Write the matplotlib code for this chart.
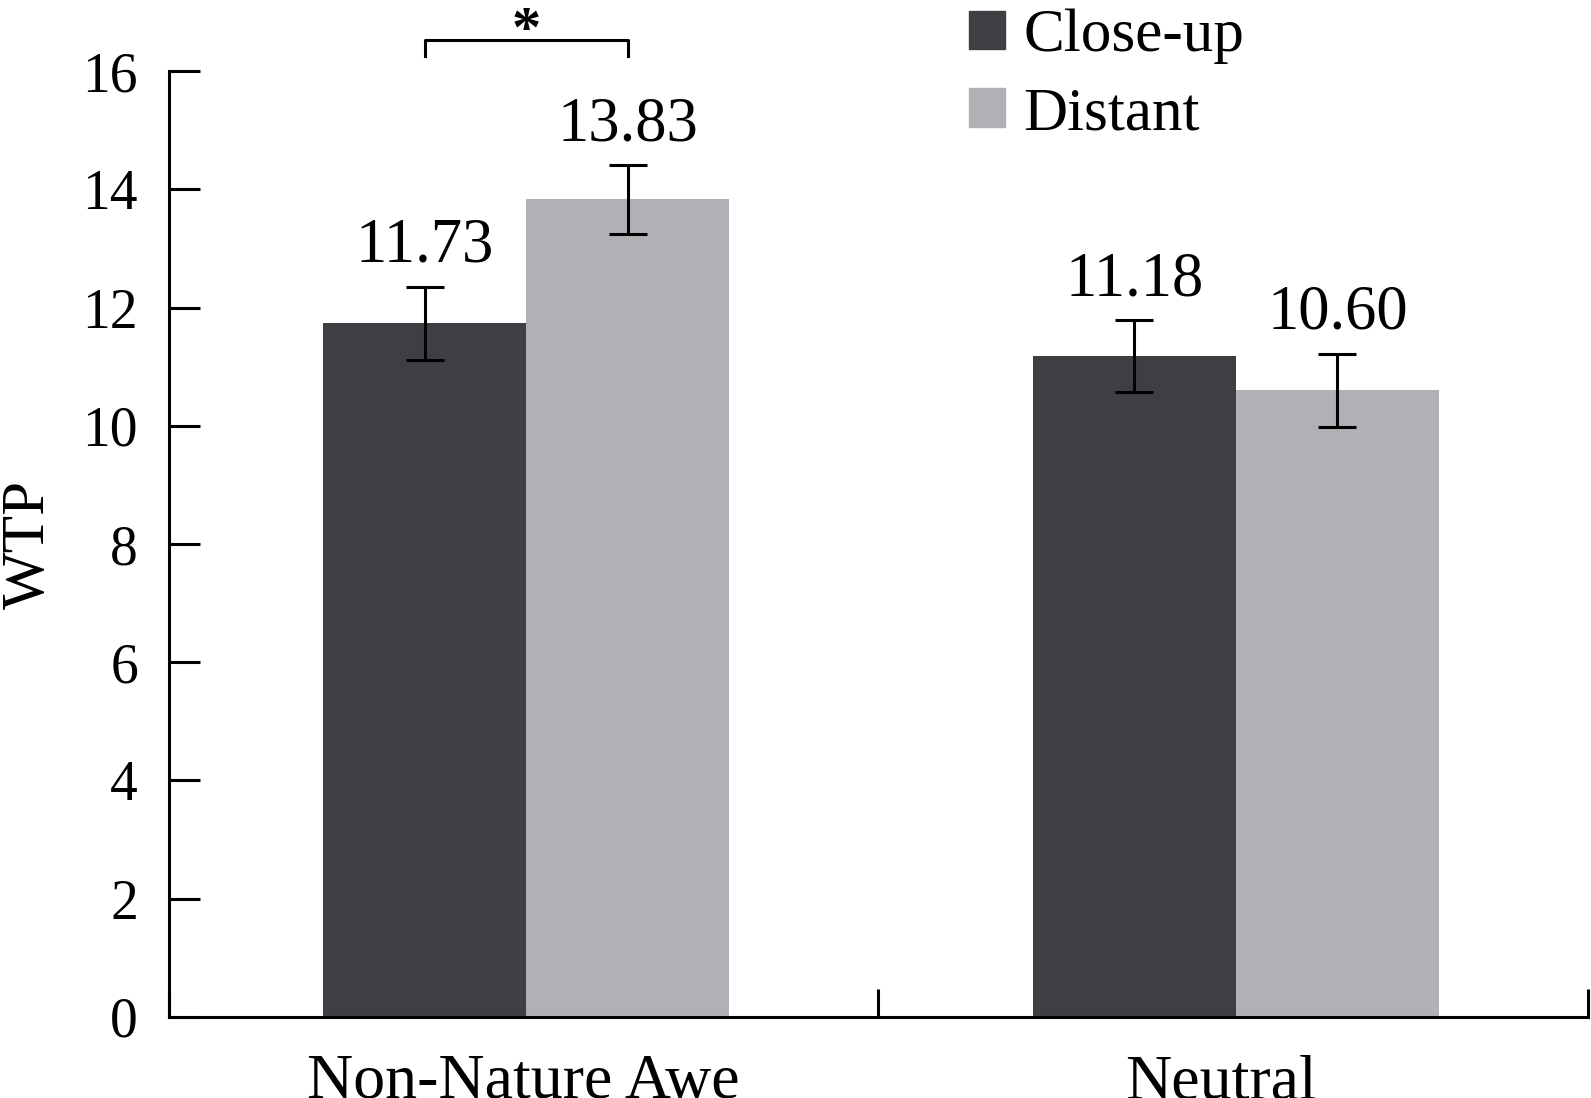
import numpy as np
import matplotlib.pyplot as plt
from matplotlib.patches import Patch

plt.rcParams['font.family'] = ['Liberation Serif', 'DejaVu Serif']

# 数据
categories = ['Non-Nature Awe', 'Neutral']
series = ['Close-up', 'Distant']
closeup = [11.73, 11.18]
distant = [13.83, 10.60]
closeup_err = [0.62, 0.61]
distant_err = [0.58, 0.62]
colors = ['#403e42', '#b2b0b5']

fig = plt.figure(figsize=(15.91, 10.98), dpi=100)
ax = fig.add_axes([0.106, 0.0738, 0.892, 0.8615])

x = np.arange(len(categories)) + 0.004
w = 0.286
err_kw = dict(ecolor='black', elinewidth=2.2, capsize=14, capthick=2.2)
ax.bar(x - w / 2, closeup, w, yerr=closeup_err, color=colors[0], error_kw=err_kw, zorder=1)
ax.bar(x + w / 2, distant, w, yerr=distant_err, color=colors[1], error_kw=err_kw, zorder=1)

# 数值标签
for xi, v, e in zip(x - w / 2, closeup, closeup_err):
    ax.text(xi, v + e + 0.42, f'{v:.2f}', ha='center', va='baseline', fontsize=45)
for xi, v, e in zip(x + w / 2, distant, distant_err):
    ax.text(xi, v + e + 0.42, f'{v:.2f}', ha='center', va='baseline', fontsize=45)

# 显著性标记
x1, x2 = x[0] - w / 2, x[0] + w / 2
ax.plot([x1, x1, x2, x2], [16.26, 16.52, 16.52, 16.26], color='black', lw=2.2,
        clip_on=False)
ax.text((x1 + x2) / 2, 16.66, '*', ha='center', va='center', fontsize=42,
        fontweight='bold', clip_on=False)

ax.set_xlim(-0.5, 1.5)
ax.set_ylim(0, 16)
ax.set_yticks(np.arange(0, 17, 2))
ax.set_xticks([-0.5, 0.5, 1.5])
ax.set_xticklabels([])
# 类别标签位置（第二个略偏左）
ax.set_xticks([0.0, 0.983], minor=True)
ax.set_xticklabels(categories, minor=True)
ax.tick_params(axis='y', direction='in', length=22, width=2.2, labelsize=40, pad=22)
ax.tick_params(axis='x', which='major', direction='in', length=20, width=2.2)
ax.tick_params(axis='x', which='minor', length=0, labelsize=46, pad=27)

for s in ['top', 'right']:
    ax.spines[s].set_visible(False)
for s in ['left', 'bottom']:
    ax.spines[s].set_linewidth(2.2)

ax.set_ylabel('WTP', fontsize=44)
ax.yaxis.set_label_coords(-0.079, 0.5)

handles = [Patch(color=c) for c in colors]
ax.legend(handles, series, loc='upper left', bbox_to_anchor=(969 / 1591, 1 - 9 / 1098),
          bbox_transform=fig.transFigure, frameon=False, fontsize=44,
          handlelength=0.59, handleheight=0.59, handletextpad=0.3,
          labelspacing=0.36, borderpad=0, borderaxespad=0)

fig.savefig('out.png', dpi=100)
